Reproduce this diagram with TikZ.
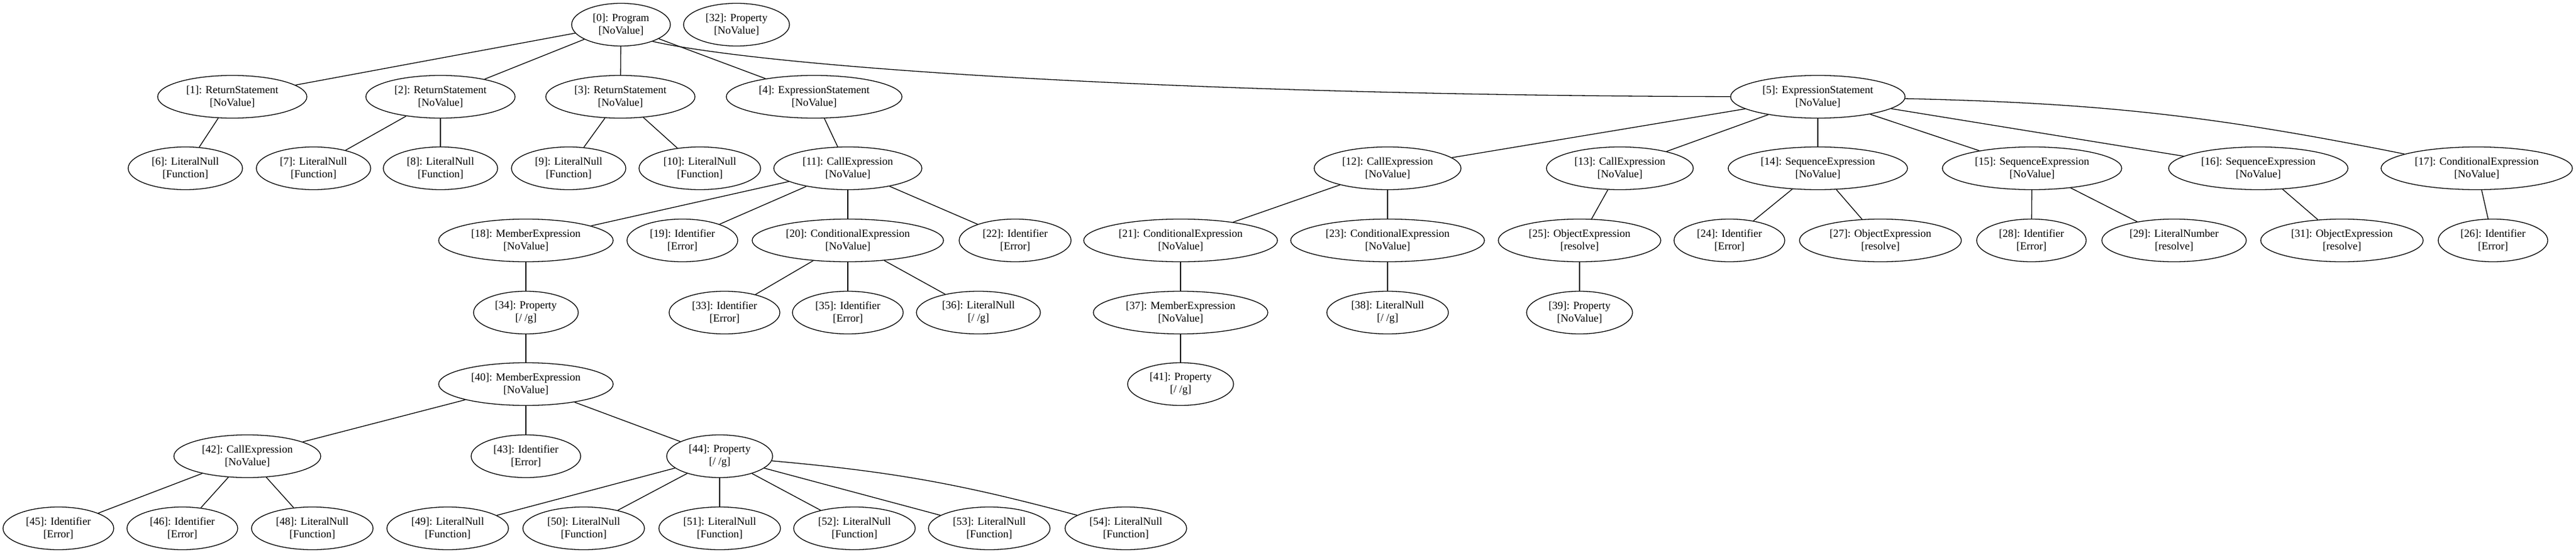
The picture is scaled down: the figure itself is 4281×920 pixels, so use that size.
\documentclass[tikz,border=0pt]{standalone}
\usepackage{fontspec}
\setmainfont{Liberation Serif}
\usetikzlibrary{shapes.geometric}
\tikzset{
  gv/.style={draw, ellipse, line width=1.3pt, minimum height=71pt, inner sep=0pt,
    align=center, font=\fontsize{18}{21}\selectfont},
  gvedge/.style={line width=1.3pt},
}
\newcommand\nd[6]{\node[gv, minimum width=#4pt] (n#1) at (#2,#3) {[#1]: #5\\{}[#6]};}
\begin{document}
\begin{tikzpicture}[x=1pt,y=-1pt]
\useasboundingbox (0,0) rectangle (4281,920);
% row 0
\nd{0}{1032}{41}{164}{Program}{NoValue}
\nd{32}{1224}{41}{176}{Property}{NoValue}
% row 1
\nd{1}{386}{161}{248}{ReturnStatement}{NoValue}
\nd{2}{732}{161}{248}{ReturnStatement}{NoValue}
\nd{3}{1031}{161}{248}{ReturnStatement}{NoValue}
\nd{4}{1353}{161}{292}{ExpressionStatement}{NoValue}
\nd{5}{3021}{161}{290}{ExpressionStatement}{NoValue}
% row 2
\nd{6}{308}{280}{190}{LiteralNull}{Function}
\nd{7}{521}{280}{190}{LiteralNull}{Function}
\nd{8}{732}{280}{190}{LiteralNull}{Function}
\nd{9}{945}{280}{190}{LiteralNull}{Function}
\nd{10}{1163}{280}{202}{LiteralNull}{Function}
\nd{11}{1409}{280}{246}{CallExpression}{NoValue}
\nd{12}{2306}{280}{244}{CallExpression}{NoValue}
\nd{13}{2692}{280}{244}{CallExpression}{NoValue}
\nd{14}{3021}{280}{298}{SequenceExpression}{NoValue}
\nd{15}{3377}{280}{298}{SequenceExpression}{NoValue}
\nd{16}{3753}{280}{298}{SequenceExpression}{NoValue}
\nd{17}{4116}{280}{318}{ConditionalExpression}{NoValue}
% row 3
\nd{18}{874}{400}{290}{MemberExpression}{NoValue}
\nd{19}{1134}{400}{184}{Identifier}{Error}
\nd{20}{1409}{400}{318}{ConditionalExpression}{NoValue}
\nd{22}{1687}{400}{186}{Identifier}{Error}
\nd{21}{1962}{400}{322}{ConditionalExpression}{NoValue}
\nd{23}{2306}{400}{322}{ConditionalExpression}{NoValue}
\nd{25}{2625}{400}{270}{ObjectExpression}{resolve}
\nd{24}{2874}{400}{184}{Identifier}{Error}
\nd{27}{3125}{400}{269}{ObjectExpression}{resolve}
\nd{28}{3376}{400}{182}{Identifier}{Error}
\nd{29}{3613}{400}{240}{LiteralNumber}{resolve}
\nd{31}{3892}{400}{270}{ObjectExpression}{resolve}
\nd{26}{4143}{400}{182}{Identifier}{Error}
% row 4
\nd{34}{874}{520}{174}{Property}{/ /g}
\nd{33}{1204}{520}{184}{Identifier}{Error}
\nd{35}{1409}{520}{184}{Identifier}{Error}
\nd{36}{1626}{520}{206}{LiteralNull}{/ /g}
\nd{37}{1962}{520}{290}{MemberExpression}{NoValue}
\nd{38}{2306}{520}{202}{LiteralNull}{/ /g}
\nd{39}{2625}{520}{176}{Property}{NoValue}
% row 5
\nd{40}{874}{639}{290}{MemberExpression}{NoValue}
\nd{41}{1962}{639}{176}{Property}{/ /g}
% row 6
\nd{42}{411}{759}{244}{CallExpression}{NoValue}
\nd{43}{874}{759}{182}{Identifier}{Error}
\nd{44}{1196}{759}{176}{Property}{/ /g}
% row 7
\nd{45}{97}{879}{184}{Identifier}{Error}
\nd{46}{303}{879}{184}{Identifier}{Error}
\nd{48}{519}{879}{202}{LiteralNull}{Function}
\nd{49}{744}{879}{202}{LiteralNull}{Function}
\nd{50}{970}{879}{202}{LiteralNull}{Function}
\nd{51}{1196}{879}{202}{LiteralNull}{Function}
\nd{52}{1420}{879}{202}{LiteralNull}{Function}
\nd{53}{1644}{879}{202}{LiteralNull}{Function}
\nd{54}{1871}{879}{202}{LiteralNull}{Function}
% edges
\begin{scope}[gvedge]
\draw (n0) -- (n1);
\draw (n0) -- (n2);
\draw (n0) -- (n3);
\draw (n0) -- (n4);
\draw (n0.-28) .. controls (1291,115) and (2000,159) .. (n5);
\draw (n1) -- (n6);
\draw (n2) -- (n7);
\draw (n2) -- (n8);
\draw (n3) -- (n9);
\draw (n3) -- (n10);
\draw (n4) -- (n11);
\draw (n5) -- (n12);
\draw (n5) -- (n13);
\draw (n5) -- (n14);
\draw (n5) -- (n15);
\draw (n5) -- (n16);
\draw (n5) to[bend left=5] (n17);
\draw (n11) -- (n18);
\draw (n11) -- (n19);
\draw (n11) -- (n20);
\draw (n11) -- (n22);
\draw (n12) -- (n21);
\draw (n12) -- (n23);
\draw (n13) -- (n25);
\draw (n14) -- (n24);
\draw (n14) -- (n27);
\draw (n15) -- (n28);
\draw (n15) -- (n29);
\draw (n16) -- (n31);
\draw (n17) -- (n26);
\draw (n18) -- (n34);
\draw (n20) -- (n33);
\draw (n20) -- (n35);
\draw (n20) -- (n36);
\draw (n21) -- (n37);
\draw (n23) -- (n38);
\draw (n25) -- (n39);
\draw (n34) -- (n40);
\draw (n37) -- (n41);
\draw (n40) -- (n42);
\draw (n40) -- (n43);
\draw (n40) -- (n44);
\draw (n42) -- (n45);
\draw (n42) -- (n46);
\draw (n42) -- (n48);
\draw (n44) -- (n49);
\draw (n44) -- (n50);
\draw (n44) -- (n51);
\draw (n44) -- (n52);
\draw (n44) -- (n53);
\draw (n44) to[bend left=5] (n54);
\end{scope}
\end{tikzpicture}
\end{document}
